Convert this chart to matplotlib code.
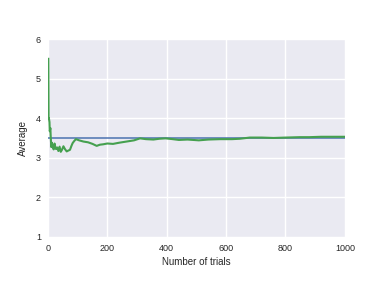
import matplotlib
matplotlib.use("Agg")
import matplotlib.pyplot as plt

# running average of die rolls
trials = [1, 2, 3, 5, 6, 8, 9, 11, 13, 15, 16, 19, 22, 24, 27, 31, 35, 39, 43, 47,
          52, 57, 63, 68, 74, 79, 83, 88, 94, 105, 119, 135, 150, 164, 175, 186,
          200, 219, 240, 265, 290, 310, 330, 355, 375, 396, 420, 441, 470, 508,
          540, 580, 620, 646, 680, 720, 760, 800, 848, 880, 920, 960, 1000]
average = [5.5, 4.0, 4.0, 3.9, 3.67, 3.75, 3.56, 3.27, 3.38, 3.27, 3.31, 3.21, 3.36,
           3.29, 3.22, 3.26, 3.17, 3.28, 3.15, 3.2, 3.29, 3.22, 3.16, 3.18, 3.2,
           3.3, 3.37, 3.42, 3.47, 3.44, 3.41, 3.39, 3.35, 3.30, 3.33, 3.34, 3.36,
           3.35, 3.38, 3.41, 3.44, 3.49, 3.47, 3.46, 3.48, 3.49, 3.47, 3.45, 3.46,
           3.44, 3.46, 3.47, 3.47, 3.48, 3.51, 3.51, 3.5, 3.51, 3.52, 3.52, 3.53,
           3.53, 3.53]
expected = 3.5
x_ticks = [0, 200, 400, 600, 800, 1000]
y_ticks = [1, 2, 3, 4, 5, 6]

plt.rcParams["font.family"] = ["Liberation Sans", "DejaVu Sans"]

fig = plt.figure(figsize=(3.84, 2.83), dpi=100)
ax = fig.add_subplot(1, 1, 1)
fig.subplots_adjust(left=0.125, right=0.898, bottom=0.163, top=0.862)

ax.set_facecolor("#EAEAF2")
for s in ax.spines.values():
    s.set_visible(False)
ax.grid(True, color="white", linewidth=1.0)
ax.set_axisbelow(True)

ax.plot([0, 1000], [expected, expected], color="#4C72B0", linewidth=1.1)
ax.plot(trials, average, color="#45A04F", linewidth=1.5)

ax.set_xlim(0, 1000)
ax.set_ylim(1, 6)
ax.set_xticks(x_ticks)
ax.set_yticks(y_ticks)
ax.tick_params(length=0, labelsize=6.5, colors="#262626", pad=5)
ax.set_xlabel("Number of trials", fontsize=7, color="#262626", labelpad=3)
ax.set_ylabel("Average", fontsize=7, color="#262626", labelpad=6)

fig.savefig("out.png", dpi=100)
plt.close(fig)
